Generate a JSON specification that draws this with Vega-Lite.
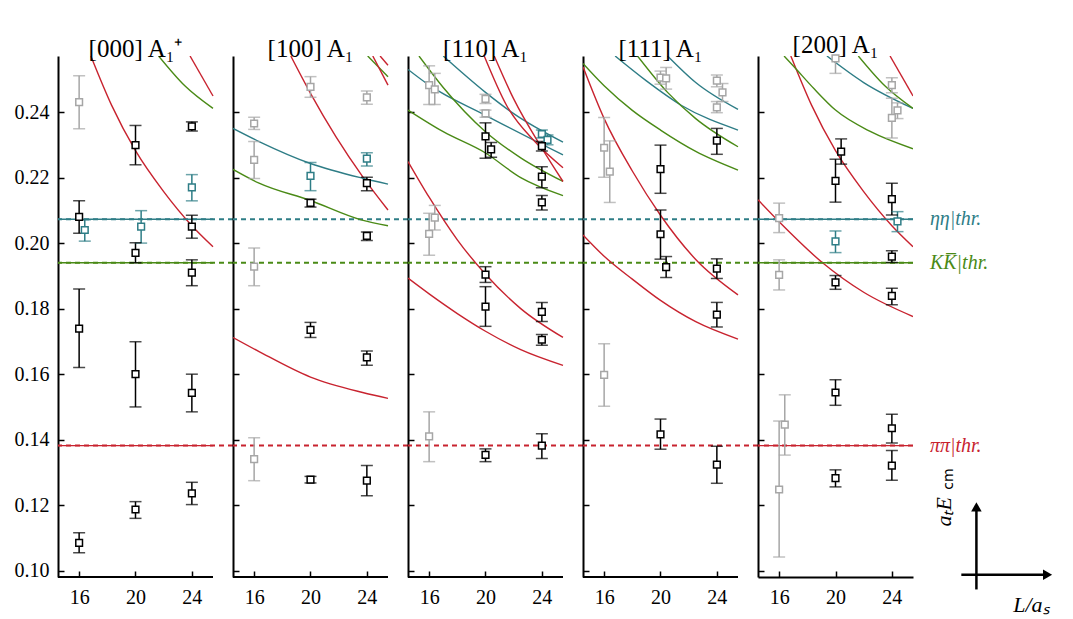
{
"$schema": "https://vega.github.io/schema/vega-lite/v6.json",
"padding": {"left": 14, "top": 32, "right": 5, "bottom": 5},
"spacing": 0,
"bounds": "flush",
"config": {
  "view": {"stroke": null},
  "font": "Liberation Serif",
  "axis": {"grid": false, "title": null, "domainColor": "#000", "domainWidth": 2, "tickColor": "#000", "tickWidth": 1.5, "tickSize": -6, "labelFont": "Liberation Serif", "labelFontSize": 20, "labelColor": "#000"},
  "style": {"guide-label": {"font": "Liberation Serif"}, "group-title": {"font": "Liberation Serif"}},
  "title": {"font": "Liberation Serif", "fontSize": 25, "fontWeight": "normal", "color": "#000", "offset": -6}
},
"datasets": {
  "thr": [
    {"y": 0.2073, "c": "t", "lab": "ηη|thr."},
    {"y": 0.194, "c": "gn", "lab": "KK̅|thr."},
    {"y": 0.1382, "c": "r", "lab": "ππ|thr."}
  ],
  "pts": [
    {"p":1,"x":16,"y":0.2080,"lo":0.2030,"hi":0.2129,"c":"k"},
    {"p":1,"x":16,"y":0.1739,"lo":0.1620,"hi":0.1860,"c":"k"},
    {"p":1,"x":16,"y":0.1085,"lo":0.1055,"hi":0.1116,"c":"k"},
    {"p":1,"x":16,"y":0.2430,"lo":0.2349,"hi":0.2511,"c":"gy"},
    {"p":1,"x":16.4,"y":0.2040,"lo":0.2006,"hi":0.2071,"c":"t"},
    {"p":1,"x":20,"y":0.2299,"lo":0.2239,"hi":0.2359,"c":"k"},
    {"p":1,"x":20,"y":0.1970,"lo":0.1940,"hi":0.2001,"c":"k"},
    {"p":1,"x":20,"y":0.1600,"lo":0.1500,"hi":0.1699,"c":"k"},
    {"p":1,"x":20,"y":0.1187,"lo":0.1160,"hi":0.1211,"c":"k"},
    {"p":1,"x":20.4,"y":0.2050,"lo":0.2000,"hi":0.2099,"c":"t"},
    {"p":1,"x":24,"y":0.2356,"lo":0.2342,"hi":0.2370,"c":"k"},
    {"p":1,"x":24,"y":0.2170,"lo":0.2129,"hi":0.2209,"c":"t"},
    {"p":1,"x":24,"y":0.2050,"lo":0.2015,"hi":0.2085,"c":"k"},
    {"p":1,"x":24,"y":0.1910,"lo":0.1870,"hi":0.1949,"c":"k"},
    {"p":1,"x":24,"y":0.1543,"lo":0.1485,"hi":0.1600,"c":"k"},
    {"p":1,"x":24,"y":0.1236,"lo":0.1202,"hi":0.1270,"c":"k"},

    {"p":2,"x":16,"y":0.2365,"lo":0.2347,"hi":0.2384,"c":"gy"},
    {"p":2,"x":16,"y":0.2254,"lo":0.2197,"hi":0.2310,"c":"gy"},
    {"p":2,"x":16,"y":0.1928,"lo":0.1870,"hi":0.1985,"c":"gy"},
    {"p":2,"x":16,"y":0.1341,"lo":0.1275,"hi":0.1406,"c":"gy"},
    {"p":2,"x":20,"y":0.2477,"lo":0.2445,"hi":0.2508,"c":"gy"},
    {"p":2,"x":20,"y":0.2205,"lo":0.2160,"hi":0.2246,"c":"t"},
    {"p":2,"x":20,"y":0.2123,"lo":0.2110,"hi":0.2134,"c":"k"},
    {"p":2,"x":20,"y":0.1735,"lo":0.1712,"hi":0.1758,"c":"k"},
    {"p":2,"x":20,"y":0.1278,"lo":0.1268,"hi":0.1288,"c":"k"},
    {"p":2,"x":24,"y":0.2445,"lo":0.2424,"hi":0.2464,"c":"gy"},
    {"p":2,"x":24,"y":0.2258,"lo":0.2235,"hi":0.2276,"c":"t"},
    {"p":2,"x":24,"y":0.2183,"lo":0.2160,"hi":0.2201,"c":"k"},
    {"p":2,"x":24,"y":0.2022,"lo":0.2008,"hi":0.2034,"c":"k"},
    {"p":2,"x":24,"y":0.1651,"lo":0.1627,"hi":0.1671,"c":"k"},
    {"p":2,"x":24,"y":0.1275,"lo":0.1229,"hi":0.1321,"c":"k"},

    {"p":3,"x":16,"y":0.2482,"lo":0.2423,"hi":0.2541,"c":"gy"},
    {"p":3,"x":16.4,"y":0.2469,"lo":0.2423,"hi":0.2518,"c":"gy"},
    {"p":3,"x":16,"y":0.2028,"lo":0.1963,"hi":0.2091,"c":"gy"},
    {"p":3,"x":16.4,"y":0.2078,"lo":0.2040,"hi":0.2115,"c":"gy"},
    {"p":3,"x":16,"y":0.1410,"lo":0.1333,"hi":0.1485,"c":"gy"},
    {"p":3,"x":20,"y":0.2440,"lo":0.2426,"hi":0.2454,"c":"gy"},
    {"p":3,"x":20,"y":0.2396,"lo":0.2384,"hi":0.2406,"c":"gy"},
    {"p":3,"x":20,"y":0.2326,"lo":0.2259,"hi":0.2367,"c":"k"},
    {"p":3,"x":20.4,"y":0.2286,"lo":0.2262,"hi":0.2307,"c":"k"},
    {"p":3,"x":20,"y":0.1904,"lo":0.1880,"hi":0.1928,"c":"k"},
    {"p":3,"x":20,"y":0.1806,"lo":0.1746,"hi":0.1867,"c":"k"},
    {"p":3,"x":20,"y":0.1354,"lo":0.1333,"hi":0.1372,"c":"k"},
    {"p":3,"x":24,"y":0.2333,"lo":0.2321,"hi":0.2345,"c":"t"},
    {"p":3,"x":24.4,"y":0.2315,"lo":0.2300,"hi":0.2330,"c":"t"},
    {"p":3,"x":24,"y":0.2296,"lo":0.2281,"hi":0.2310,"c":"k"},
    {"p":3,"x":24,"y":0.2203,"lo":0.2169,"hi":0.2233,"c":"k"},
    {"p":3,"x":24,"y":0.2124,"lo":0.2101,"hi":0.2145,"c":"k"},
    {"p":3,"x":24,"y":0.1790,"lo":0.1761,"hi":0.1819,"c":"k"},
    {"p":3,"x":24,"y":0.1705,"lo":0.1688,"hi":0.1721,"c":"k"},
    {"p":3,"x":24,"y":0.1382,"lo":0.1343,"hi":0.1418,"c":"k"},

    {"p":4,"x":16,"y":0.2291,"lo":0.2201,"hi":0.2383,"c":"gy"},
    {"p":4,"x":16.4,"y":0.2218,"lo":0.2124,"hi":0.2312,"c":"gy"},
    {"p":4,"x":16,"y":0.1598,"lo":0.1502,"hi":0.1693,"c":"gy"},
    {"p":4,"x":20,"y":0.2505,"lo":0.2485,"hi":0.2525,"c":"gy"},
    {"p":4,"x":20.4,"y":0.2503,"lo":0.2470,"hi":0.2536,"c":"gy"},
    {"p":4,"x":20,"y":0.2226,"lo":0.2152,"hi":0.2299,"c":"k"},
    {"p":4,"x":20,"y":0.2027,"lo":0.1951,"hi":0.2101,"c":"k"},
    {"p":4,"x":20.4,"y":0.1927,"lo":0.1895,"hi":0.1959,"c":"k"},
    {"p":4,"x":20,"y":0.1416,"lo":0.1371,"hi":0.1463,"c":"k"},
    {"p":4,"x":24,"y":0.2496,"lo":0.2477,"hi":0.2513,"c":"gy"},
    {"p":4,"x":24.4,"y":0.2460,"lo":0.2432,"hi":0.2487,"c":"gy"},
    {"p":4,"x":24,"y":0.2414,"lo":0.2398,"hi":0.2432,"c":"gy"},
    {"p":4,"x":24,"y":0.2313,"lo":0.2271,"hi":0.2350,"c":"k"},
    {"p":4,"x":24,"y":0.1922,"lo":0.1892,"hi":0.1952,"c":"k"},
    {"p":4,"x":24,"y":0.1782,"lo":0.1744,"hi":0.1819,"c":"k"},
    {"p":4,"x":24,"y":0.1324,"lo":0.1267,"hi":0.1380,"c":"k"},

    {"p":5,"x":16,"y":0.2076,"lo":0.2032,"hi":0.2122,"c":"gy"},
    {"p":5,"x":16,"y":0.1903,"lo":0.1857,"hi":0.1949,"c":"gy"},
    {"p":5,"x":16,"y":0.1248,"lo":0.1042,"hi":0.1457,"c":"gy"},
    {"p":5,"x":16.4,"y":0.1446,"lo":0.1353,"hi":0.1537,"c":"gy"},
    {"p":5,"x":20,"y":0.2564,"lo":0.2518,"hi":0.2610,"c":"gy"},
    {"p":5,"x":20,"y":0.2190,"lo":0.2125,"hi":0.2256,"c":"k"},
    {"p":5,"x":20.4,"y":0.2279,"lo":0.2241,"hi":0.2318,"c":"k"},
    {"p":5,"x":20,"y":0.2005,"lo":0.1971,"hi":0.2037,"c":"t"},
    {"p":5,"x":20,"y":0.1880,"lo":0.1859,"hi":0.1901,"c":"k"},
    {"p":5,"x":20,"y":0.1544,"lo":0.1505,"hi":0.1583,"c":"k"},
    {"p":5,"x":20,"y":0.1283,"lo":0.1256,"hi":0.1308,"c":"k"},
    {"p":5,"x":24,"y":0.2482,"lo":0.2459,"hi":0.2505,"c":"gy"},
    {"p":5,"x":24.4,"y":0.2405,"lo":0.2380,"hi":0.2428,"c":"gy"},
    {"p":5,"x":24,"y":0.2382,"lo":0.2321,"hi":0.2442,"c":"gy"},
    {"p":5,"x":24,"y":0.2134,"lo":0.2086,"hi":0.2183,"c":"k"},
    {"p":5,"x":24.4,"y":0.2066,"lo":0.2035,"hi":0.2096,"c":"t"},
    {"p":5,"x":24,"y":0.1959,"lo":0.1941,"hi":0.1977,"c":"k"},
    {"p":5,"x":24,"y":0.1839,"lo":0.1812,"hi":0.1862,"c":"k"},
    {"p":5,"x":24,"y":0.1435,"lo":0.1390,"hi":0.1478,"c":"k"},
    {"p":5,"x":24,"y":0.1321,"lo":0.1276,"hi":0.1367,"c":"k"}
  ],
  "curves": [
    {"p":1,"id":"a","c":"r","x":16.83,"y":0.2571},{"p":1,"id":"a","c":"r","x":18.3,"y":0.2421},{"p":1,"id":"a","c":"r","x":20,"y":0.2282},{"p":1,"id":"a","c":"r","x":22,"y":0.2157},{"p":1,"id":"a","c":"r","x":24,"y":0.2053},{"p":1,"id":"a","c":"r","x":25.5,"y":0.1989},
    {"p":1,"id":"b","c":"gn","x":21.64,"y":0.2571},{"p":1,"id":"b","c":"gn","x":23.5,"y":0.2480},{"p":1,"id":"b","c":"gn","x":25.5,"y":0.2411},
    {"p":1,"id":"c","c":"r","x":23.87,"y":0.2571},{"p":1,"id":"c","c":"r","x":25.5,"y":0.2449},
    {"p":1,"id":"d","c":"t","x":14.5,"y":0.2073},{"p":1,"id":"d","c":"t","x":25.5,"y":0.2073},
    {"p":1,"id":"e","c":"gn","x":14.5,"y":0.194},{"p":1,"id":"e","c":"gn","x":25.5,"y":0.194},
    {"p":1,"id":"f","c":"r","x":14.5,"y":0.1382},{"p":1,"id":"f","c":"r","x":25.5,"y":0.1382},

    {"p":2,"id":"a","c":"r","x":18.6,"y":0.2571},{"p":2,"id":"a","c":"r","x":20,"y":0.2457},{"p":2,"id":"a","c":"r","x":21.8,"y":0.2325},{"p":2,"id":"a","c":"r","x":23.7,"y":0.2203},{"p":2,"id":"a","c":"r","x":25.5,"y":0.2101},
    {"p":2,"id":"b","c":"t","x":14.5,"y":0.2350},{"p":2,"id":"b","c":"t","x":16.35,"y":0.2310},{"p":2,"id":"b","c":"t","x":20,"y":0.2243},{"p":2,"id":"b","c":"t","x":23.7,"y":0.2198},{"p":2,"id":"b","c":"t","x":25.5,"y":0.2180},
    {"p":2,"id":"c","c":"gn","x":14.5,"y":0.2225},{"p":2,"id":"c","c":"gn","x":16.35,"y":0.2183},{"p":2,"id":"c","c":"gn","x":20,"y":0.2130},{"p":2,"id":"c","c":"gn","x":23.6,"y":0.2071},{"p":2,"id":"c","c":"gn","x":25.5,"y":0.2053},
    {"p":2,"id":"d","c":"r","x":14.5,"y":0.1712},{"p":2,"id":"d","c":"r","x":16.35,"y":0.1669},{"p":2,"id":"d","c":"r","x":20,"y":0.1591},{"p":2,"id":"d","c":"r","x":23.7,"y":0.1544},{"p":2,"id":"d","c":"r","x":25.5,"y":0.1526},
    {"p":2,"id":"e","c":"gn","x":24.06,"y":0.2571},{"p":2,"id":"e","c":"gn","x":25.5,"y":0.2508},
    {"p":2,"id":"f","c":"r","x":24.42,"y":0.2571},{"p":2,"id":"f","c":"r","x":25.5,"y":0.2482},
    {"p":2,"id":"g","c":"r","x":24.94,"y":0.2571},{"p":2,"id":"g","c":"r","x":25.5,"y":0.2543},

    {"p":3,"id":"a","c":"t","x":14.5,"y":0.2530},{"p":3,"id":"a","c":"t","x":16,"y":0.2482},{"p":3,"id":"a","c":"t","x":20,"y":0.2390},{"p":3,"id":"a","c":"t","x":25.5,"y":0.2269},
    {"p":3,"id":"b","c":"t","x":17.0,"y":0.2571},{"p":3,"id":"b","c":"t","x":20,"y":0.2460},{"p":3,"id":"b","c":"t","x":22,"y":0.2395},{"p":3,"id":"b","c":"t","x":25.5,"y":0.2308},
    {"p":3,"id":"c","c":"gn","x":15.28,"y":0.2571},{"p":3,"id":"c","c":"gn","x":17,"y":0.2475},{"p":3,"id":"c","c":"gn","x":20,"y":0.2340},{"p":3,"id":"c","c":"gn","x":22.5,"y":0.2260},{"p":3,"id":"c","c":"gn","x":25.5,"y":0.2188},
    {"p":3,"id":"d","c":"gn","x":14.5,"y":0.2406},{"p":3,"id":"d","c":"gn","x":17,"y":0.2340},{"p":3,"id":"d","c":"gn","x":20,"y":0.2275},{"p":3,"id":"d","c":"gn","x":22.5,"y":0.2200},{"p":3,"id":"d","c":"gn","x":25.5,"y":0.2145},
    {"p":3,"id":"e","c":"r","x":19.91,"y":0.2571},{"p":3,"id":"e","c":"r","x":21.5,"y":0.2420},{"p":3,"id":"e","c":"r","x":23.5,"y":0.2310},{"p":3,"id":"e","c":"r","x":25.5,"y":0.2230},
    {"p":3,"id":"f","c":"r","x":20.62,"y":0.2571},{"p":3,"id":"f","c":"r","x":22,"y":0.2440},{"p":3,"id":"f","c":"r","x":24,"y":0.2290},{"p":3,"id":"f","c":"r","x":25.5,"y":0.2188},
    {"p":3,"id":"g","c":"r","x":14.5,"y":0.2249},{"p":3,"id":"g","c":"r","x":16,"y":0.2140},{"p":3,"id":"g","c":"r","x":18,"y":0.2010},{"p":3,"id":"g","c":"r","x":20,"y":0.1905},{"p":3,"id":"g","c":"r","x":22.5,"y":0.1800},{"p":3,"id":"g","c":"r","x":25.5,"y":0.1712},
    {"p":3,"id":"h","c":"r","x":14.5,"y":0.1893},{"p":3,"id":"h","c":"r","x":16,"y":0.1845},{"p":3,"id":"h","c":"r","x":18,"y":0.1785},{"p":3,"id":"h","c":"r","x":20,"y":0.1731},{"p":3,"id":"h","c":"r","x":22.5,"y":0.1675},{"p":3,"id":"h","c":"r","x":25.5,"y":0.1627},

    {"p":4,"id":"a","c":"gn","x":14.5,"y":0.2548},{"p":4,"id":"a","c":"gn","x":16,"y":0.2480},{"p":4,"id":"a","c":"gn","x":18,"y":0.2405},{"p":4,"id":"a","c":"gn","x":20,"y":0.2345},{"p":4,"id":"a","c":"gn","x":22.5,"y":0.2280},{"p":4,"id":"a","c":"gn","x":25.5,"y":0.2223},
    {"p":4,"id":"b","c":"r","x":14.5,"y":0.2538},{"p":4,"id":"b","c":"r","x":16,"y":0.2380},{"p":4,"id":"b","c":"r","x":18,"y":0.2220},{"p":4,"id":"b","c":"r","x":20,"y":0.2085},{"p":4,"id":"b","c":"r","x":22.5,"y":0.1950},{"p":4,"id":"b","c":"r","x":25.5,"y":0.1842},
    {"p":4,"id":"c","c":"r","x":14.5,"y":0.2025},{"p":4,"id":"c","c":"r","x":16,"y":0.1960},{"p":4,"id":"c","c":"r","x":18,"y":0.1890},{"p":4,"id":"c","c":"r","x":20,"y":0.1825},{"p":4,"id":"c","c":"r","x":22.5,"y":0.1760},{"p":4,"id":"c","c":"r","x":25.5,"y":0.1707},
    {"p":4,"id":"d","c":"t","x":16.78,"y":0.2571},{"p":4,"id":"d","c":"t","x":19,"y":0.2495},{"p":4,"id":"d","c":"t","x":21.5,"y":0.2420},{"p":4,"id":"d","c":"t","x":25.5,"y":0.2345},
    {"p":4,"id":"e","c":"t","x":20.5,"y":0.2571},{"p":4,"id":"e","c":"t","x":22.5,"y":0.2490},{"p":4,"id":"e","c":"t","x":25.5,"y":0.2408},
    {"p":4,"id":"f","c":"gn","x":18.37,"y":0.2571},{"p":4,"id":"f","c":"gn","x":20.5,"y":0.2460},{"p":4,"id":"f","c":"gn","x":22.5,"y":0.2380},{"p":4,"id":"f","c":"gn","x":25.5,"y":0.2294},

    {"p":5,"id":"a","c":"r","x":16.83,"y":0.2571},{"p":5,"id":"a","c":"r","x":18.3,"y":0.2421},{"p":5,"id":"a","c":"r","x":20,"y":0.2282},{"p":5,"id":"a","c":"r","x":22,"y":0.2157},{"p":5,"id":"a","c":"r","x":24,"y":0.2053},{"p":5,"id":"a","c":"r","x":25.5,"y":0.1989},
    {"p":5,"id":"b","c":"r","x":14.5,"y":0.2132},{"p":5,"id":"b","c":"r","x":16,"y":0.2065},{"p":5,"id":"b","c":"r","x":19.08,"y":0.1940},{"p":5,"id":"b","c":"r","x":22,"y":0.1850},{"p":5,"id":"b","c":"r","x":25.5,"y":0.1776},
    {"p":5,"id":"c","c":"gn","x":16.35,"y":0.2571},{"p":5,"id":"c","c":"gn","x":17.06,"y":0.2538},{"p":5,"id":"c","c":"gn","x":18.5,"y":0.2470},{"p":5,"id":"c","c":"gn","x":20,"y":0.2406},{"p":5,"id":"c","c":"gn","x":22.5,"y":0.2340},{"p":5,"id":"c","c":"gn","x":25.5,"y":0.2288},
    {"p":5,"id":"d","c":"t","x":19.39,"y":0.2571},{"p":5,"id":"d","c":"t","x":22,"y":0.2490},{"p":5,"id":"d","c":"t","x":25.5,"y":0.2411},
    {"p":5,"id":"e","c":"gn","x":21.62,"y":0.2571},{"p":5,"id":"e","c":"gn","x":23.5,"y":0.2480},{"p":5,"id":"e","c":"gn","x":25.5,"y":0.2411},
    {"p":5,"id":"f","c":"r","x":23.87,"y":0.2571},{"p":5,"id":"f","c":"r","x":25.5,"y":0.2449},
    {"p":5,"id":"g","c":"t","x":14.5,"y":0.2073},{"p":5,"id":"g","c":"t","x":25.5,"y":0.2073},
    {"p":5,"id":"h","c":"gn","x":14.5,"y":0.194},{"p":5,"id":"h","c":"gn","x":25.5,"y":0.194},
    {"p":5,"id":"i","c":"r","x":14.5,"y":0.1382},{"p":5,"id":"i","c":"r","x":25.5,"y":0.1382}
  ]
},
"hconcat": [
 {"width":175,"height":521,"title":{"text":"[000] A₁⁺","dx":-10},
  "layer":[
   {"data":{"name":"thr"},"mark":{"type":"rule","strokeDash":[5,4],"strokeWidth":2},"encoding":{"y":{"field":"y","type":"quantitative","scale":{"domain":[0.0981,0.2571],"nice":false,"zero":false},"axis":{"values":[0.10,0.12,0.14,0.16,0.18,0.20,0.22,0.24],"format":".2f","labelPadding":15,"labelFont":"Liberation Serif"}},"color":{"field":"c","type":"nominal","scale":{"domain":["k","gy","t","gn","r"],"range":["#000000","#a6a6a6","#2e7d86","#4a8a16","#c8232f"]},"legend":null}}},
   {"data":{"values":[{}]},"mark":{"type":"rule","strokeWidth":2,"color":"#000"},"encoding":{"x":{"datum":14.5,"type":"quantitative"},"x2":{"datum":25.5},"y":{"datum":0.0981,"type":"quantitative"}}},
   {"data":{"name":"curves"},"transform":[{"filter":"datum.p==1"}],"mark":{"type":"line","clip":true,"interpolate":"monotone","strokeWidth":1.4},"encoding":{"x":{"field":"x","type":"quantitative","scale":{"domain":[14.5,26.9194],"nice":false,"zero":false},"axis":{"values":[16,20,24],"labelPadding":16,"domain":false,"labelFont":"Liberation Serif"}},"y":{"field":"y","type":"quantitative"},"detail":{"field":"id"},"color":{"field":"c","type":"nominal","legend":null}}},
   {"data":{"name":"pts"},"transform":[{"filter":"datum.p==1"}],"mark":{"type":"rule","strokeWidth":1.5,"clip":true},"encoding":{"x":{"field":"x","type":"quantitative"},"y":{"field":"lo","type":"quantitative"},"y2":{"field":"hi"},"color":{"field":"c","type":"nominal","legend":null}}},
   {"data":{"name":"pts"},"transform":[{"filter":"datum.p==1"}],"mark":{"type":"tick","orient":"horizontal","size":12,"thickness":1.5,"clip":true},"encoding":{"x":{"field":"x","type":"quantitative"},"y":{"field":"lo","type":"quantitative"},"color":{"field":"c","type":"nominal","legend":null}}},
   {"data":{"name":"pts"},"transform":[{"filter":"datum.p==1"}],"mark":{"type":"tick","orient":"horizontal","size":12,"thickness":1.5,"clip":true},"encoding":{"x":{"field":"x","type":"quantitative"},"y":{"field":"hi","type":"quantitative"},"color":{"field":"c","type":"nominal","legend":null}}},
   {"data":{"name":"pts"},"transform":[{"filter":"datum.p==1"}],"mark":{"type":"point","shape":"square","size":45,"fill":"#ffffff","filled":false,"opacity":1,"strokeWidth":1.5},"encoding":{"x":{"field":"x","type":"quantitative"},"y":{"field":"y","type":"quantitative"},"stroke":{"field":"c","type":"nominal","scale":{"domain":["k","gy","t","gn","r"],"range":["#000000","#a6a6a6","#2e7d86","#4a8a16","#c8232f"]},"legend":null}}}
  ]},
 {"width":175,"height":521,"title":{"text":"[100] A₁","dx":-10},
  "layer":[
   {"data":{"name":"thr"},"mark":{"type":"rule","strokeDash":[5,4],"strokeWidth":2},"encoding":{"y":{"field":"y","type":"quantitative","scale":{"domain":[0.0981,0.2571],"nice":false,"zero":false},"axis":{"values":[0.10,0.12,0.14,0.16,0.18,0.20,0.22,0.24],"labels":false}},"color":{"field":"c","type":"nominal","scale":{"domain":["k","gy","t","gn","r"],"range":["#000000","#a6a6a6","#2e7d86","#4a8a16","#c8232f"]},"legend":null}}},
   {"data":{"values":[{}]},"mark":{"type":"rule","strokeWidth":2,"color":"#000"},"encoding":{"x":{"datum":14.5,"type":"quantitative"},"x2":{"datum":25.5},"y":{"datum":0.0981,"type":"quantitative"}}},
   {"data":{"name":"curves"},"transform":[{"filter":"datum.p==2"}],"mark":{"type":"line","clip":true,"interpolate":"monotone","strokeWidth":1.4},"encoding":{"x":{"field":"x","type":"quantitative","scale":{"domain":[14.5,26.9194],"nice":false,"zero":false},"axis":{"values":[16,20,24],"labelPadding":16,"domain":false,"labelFont":"Liberation Serif"}},"y":{"field":"y","type":"quantitative"},"detail":{"field":"id"},"color":{"field":"c","type":"nominal","legend":null}}},
   {"data":{"name":"pts"},"transform":[{"filter":"datum.p==2"}],"mark":{"type":"rule","strokeWidth":1.5,"clip":true},"encoding":{"x":{"field":"x","type":"quantitative"},"y":{"field":"lo","type":"quantitative"},"y2":{"field":"hi"},"color":{"field":"c","type":"nominal","legend":null}}},
   {"data":{"name":"pts"},"transform":[{"filter":"datum.p==2"}],"mark":{"type":"tick","orient":"horizontal","size":12,"thickness":1.5,"clip":true},"encoding":{"x":{"field":"x","type":"quantitative"},"y":{"field":"lo","type":"quantitative"},"color":{"field":"c","type":"nominal","legend":null}}},
   {"data":{"name":"pts"},"transform":[{"filter":"datum.p==2"}],"mark":{"type":"tick","orient":"horizontal","size":12,"thickness":1.5,"clip":true},"encoding":{"x":{"field":"x","type":"quantitative"},"y":{"field":"hi","type":"quantitative"},"color":{"field":"c","type":"nominal","legend":null}}},
   {"data":{"name":"pts"},"transform":[{"filter":"datum.p==2"}],"mark":{"type":"point","shape":"square","size":45,"fill":"#ffffff","filled":false,"opacity":1,"strokeWidth":1.5},"encoding":{"x":{"field":"x","type":"quantitative"},"y":{"field":"y","type":"quantitative"},"stroke":{"field":"c","type":"nominal","scale":{"domain":["k","gy","t","gn","r"],"range":["#000000","#a6a6a6","#2e7d86","#4a8a16","#c8232f"]},"legend":null}}}
  ]},
 {"width":175,"height":521,"title":{"text":"[110] A₁","dx":-10},
  "layer":[
   {"data":{"name":"thr"},"mark":{"type":"rule","strokeDash":[5,4],"strokeWidth":2},"encoding":{"y":{"field":"y","type":"quantitative","scale":{"domain":[0.0981,0.2571],"nice":false,"zero":false},"axis":{"values":[0.10,0.12,0.14,0.16,0.18,0.20,0.22,0.24],"labels":false}},"color":{"field":"c","type":"nominal","scale":{"domain":["k","gy","t","gn","r"],"range":["#000000","#a6a6a6","#2e7d86","#4a8a16","#c8232f"]},"legend":null}}},
   {"data":{"values":[{}]},"mark":{"type":"rule","strokeWidth":2,"color":"#000"},"encoding":{"x":{"datum":14.5,"type":"quantitative"},"x2":{"datum":25.5},"y":{"datum":0.0981,"type":"quantitative"}}},
   {"data":{"name":"curves"},"transform":[{"filter":"datum.p==3"}],"mark":{"type":"line","clip":true,"interpolate":"monotone","strokeWidth":1.4},"encoding":{"x":{"field":"x","type":"quantitative","scale":{"domain":[14.5,26.9194],"nice":false,"zero":false},"axis":{"values":[16,20,24],"labelPadding":16,"domain":false,"labelFont":"Liberation Serif"}},"y":{"field":"y","type":"quantitative"},"detail":{"field":"id"},"color":{"field":"c","type":"nominal","legend":null}}},
   {"data":{"name":"pts"},"transform":[{"filter":"datum.p==3"}],"mark":{"type":"rule","strokeWidth":1.5,"clip":true},"encoding":{"x":{"field":"x","type":"quantitative"},"y":{"field":"lo","type":"quantitative"},"y2":{"field":"hi"},"color":{"field":"c","type":"nominal","legend":null}}},
   {"data":{"name":"pts"},"transform":[{"filter":"datum.p==3"}],"mark":{"type":"tick","orient":"horizontal","size":12,"thickness":1.5,"clip":true},"encoding":{"x":{"field":"x","type":"quantitative"},"y":{"field":"lo","type":"quantitative"},"color":{"field":"c","type":"nominal","legend":null}}},
   {"data":{"name":"pts"},"transform":[{"filter":"datum.p==3"}],"mark":{"type":"tick","orient":"horizontal","size":12,"thickness":1.5,"clip":true},"encoding":{"x":{"field":"x","type":"quantitative"},"y":{"field":"hi","type":"quantitative"},"color":{"field":"c","type":"nominal","legend":null}}},
   {"data":{"name":"pts"},"transform":[{"filter":"datum.p==3"}],"mark":{"type":"point","shape":"square","size":45,"fill":"#ffffff","filled":false,"opacity":1,"strokeWidth":1.5},"encoding":{"x":{"field":"x","type":"quantitative"},"y":{"field":"y","type":"quantitative"},"stroke":{"field":"c","type":"nominal","scale":{"domain":["k","gy","t","gn","r"],"range":["#000000","#a6a6a6","#2e7d86","#4a8a16","#c8232f"]},"legend":null}}}
  ]},
 {"width":175,"height":521,"title":{"text":"[111] A₁","dx":-10},
  "layer":[
   {"data":{"name":"thr"},"mark":{"type":"rule","strokeDash":[5,4],"strokeWidth":2},"encoding":{"y":{"field":"y","type":"quantitative","scale":{"domain":[0.0981,0.2571],"nice":false,"zero":false},"axis":{"values":[0.10,0.12,0.14,0.16,0.18,0.20,0.22,0.24],"labels":false}},"color":{"field":"c","type":"nominal","scale":{"domain":["k","gy","t","gn","r"],"range":["#000000","#a6a6a6","#2e7d86","#4a8a16","#c8232f"]},"legend":null}}},
   {"data":{"values":[{}]},"mark":{"type":"rule","strokeWidth":2,"color":"#000"},"encoding":{"x":{"datum":14.5,"type":"quantitative"},"x2":{"datum":25.5},"y":{"datum":0.0981,"type":"quantitative"}}},
   {"data":{"name":"curves"},"transform":[{"filter":"datum.p==4"}],"mark":{"type":"line","clip":true,"interpolate":"monotone","strokeWidth":1.4},"encoding":{"x":{"field":"x","type":"quantitative","scale":{"domain":[14.5,26.9194],"nice":false,"zero":false},"axis":{"values":[16,20,24],"labelPadding":16,"domain":false,"labelFont":"Liberation Serif"}},"y":{"field":"y","type":"quantitative"},"detail":{"field":"id"},"color":{"field":"c","type":"nominal","legend":null}}},
   {"data":{"name":"pts"},"transform":[{"filter":"datum.p==4"}],"mark":{"type":"rule","strokeWidth":1.5,"clip":true},"encoding":{"x":{"field":"x","type":"quantitative"},"y":{"field":"lo","type":"quantitative"},"y2":{"field":"hi"},"color":{"field":"c","type":"nominal","legend":null}}},
   {"data":{"name":"pts"},"transform":[{"filter":"datum.p==4"}],"mark":{"type":"tick","orient":"horizontal","size":12,"thickness":1.5,"clip":true},"encoding":{"x":{"field":"x","type":"quantitative"},"y":{"field":"lo","type":"quantitative"},"color":{"field":"c","type":"nominal","legend":null}}},
   {"data":{"name":"pts"},"transform":[{"filter":"datum.p==4"}],"mark":{"type":"tick","orient":"horizontal","size":12,"thickness":1.5,"clip":true},"encoding":{"x":{"field":"x","type":"quantitative"},"y":{"field":"hi","type":"quantitative"},"color":{"field":"c","type":"nominal","legend":null}}},
   {"data":{"name":"pts"},"transform":[{"filter":"datum.p==4"}],"mark":{"type":"point","shape":"square","size":45,"fill":"#ffffff","filled":false,"opacity":1,"strokeWidth":1.5},"encoding":{"x":{"field":"x","type":"quantitative"},"y":{"field":"y","type":"quantitative"},"stroke":{"field":"c","type":"nominal","scale":{"domain":["k","gy","t","gn","r"],"range":["#000000","#a6a6a6","#2e7d86","#4a8a16","#c8232f"]},"legend":null}}}
  ]},
 {"width":155,"height":521,"title":{"text":"[200] A₁"},
  "layer":[
   {"data":{"name":"thr"},"mark":{"type":"rule","strokeDash":[5,4],"strokeWidth":2},"encoding":{"y":{"field":"y","type":"quantitative","scale":{"domain":[0.0981,0.2571],"nice":false,"zero":false},"axis":{"values":[0.10,0.12,0.14,0.16,0.18,0.20,0.22,0.24],"labels":false}},"color":{"field":"c","type":"nominal","scale":{"domain":["k","gy","t","gn","r"],"range":["#000000","#a6a6a6","#2e7d86","#4a8a16","#c8232f"]},"legend":null}}},
   {"data":{"name":"curves"},"transform":[{"filter":"datum.p==5"}],"mark":{"type":"line","clip":true,"interpolate":"monotone","strokeWidth":1.4},"encoding":{"x":{"field":"x","type":"quantitative","scale":{"domain":[14.5,25.5],"nice":false,"zero":false},"axis":{"values":[16,20,24],"labelPadding":16,"labelFont":"Liberation Serif"}},"y":{"field":"y","type":"quantitative"},"detail":{"field":"id"},"color":{"field":"c","type":"nominal","legend":null}}},
   {"data":{"name":"pts"},"transform":[{"filter":"datum.p==5"}],"mark":{"type":"rule","strokeWidth":1.5,"clip":true},"encoding":{"x":{"field":"x","type":"quantitative"},"y":{"field":"lo","type":"quantitative"},"y2":{"field":"hi"},"color":{"field":"c","type":"nominal","legend":null}}},
   {"data":{"name":"pts"},"transform":[{"filter":"datum.p==5"}],"mark":{"type":"tick","orient":"horizontal","size":12,"thickness":1.5,"clip":true},"encoding":{"x":{"field":"x","type":"quantitative"},"y":{"field":"lo","type":"quantitative"},"color":{"field":"c","type":"nominal","legend":null}}},
   {"data":{"name":"pts"},"transform":[{"filter":"datum.p==5"}],"mark":{"type":"tick","orient":"horizontal","size":12,"thickness":1.5,"clip":true},"encoding":{"x":{"field":"x","type":"quantitative"},"y":{"field":"hi","type":"quantitative"},"color":{"field":"c","type":"nominal","legend":null}}},
   {"data":{"name":"pts"},"transform":[{"filter":"datum.p==5"}],"mark":{"type":"point","shape":"square","size":45,"fill":"#ffffff","filled":false,"opacity":1,"strokeWidth":1.5},"encoding":{"x":{"field":"x","type":"quantitative"},"y":{"field":"y","type":"quantitative"},"stroke":{"field":"c","type":"nominal","scale":{"domain":["k","gy","t","gn","r"],"range":["#000000","#a6a6a6","#2e7d86","#4a8a16","#c8232f"]},"legend":null}}},
   {"data":{"name":"thr"},"mark":{"type":"text","align":"left","baseline":"middle","font":"Liberation Serif","fontStyle":"italic","fontSize":20},"encoding":{"x":{"datum":26.7,"type":"quantitative"},"y":{"field":"y","type":"quantitative"},"text":{"field":"lab"},"color":{"field":"c","type":"nominal","legend":null}}},
   {"data":{"values":[{}]},"mark":{"type":"rule","strokeWidth":2.5,"color":"#000"},"encoding":{"x":{"datum":30,"type":"quantitative"},"y":{"datum":0.0943,"type":"quantitative"},"y2":{"datum":0.1185}}},
   {"data":{"values":[{}]},"mark":{"type":"rule","strokeWidth":2.5,"color":"#000"},"encoding":{"x":{"datum":28.93,"type":"quantitative"},"x2":{"datum":34.9},"y":{"datum":0.0988,"type":"quantitative"}}},
   {"data":{"values":[{}]},"mark":{"type":"point","shape":"triangle-up","filled":true,"size":110,"color":"#000","opacity":1},"encoding":{"x":{"datum":30,"type":"quantitative"},"y":{"datum":0.1195,"type":"quantitative"}}},
   {"data":{"values":[{}]},"mark":{"type":"point","shape":"triangle-right","filled":true,"size":110,"color":"#000","opacity":1},"encoding":{"x":{"datum":35.05,"type":"quantitative"},"y":{"datum":0.0988,"type":"quantitative"}}},
   {"data":{"values":[{}]},"mark":{"type":"text","align":"center","baseline":"middle","font":"Liberation Serif","fontStyle":"italic","fontSize":22,"color":"#000"},"encoding":{"x":{"datum":33.9,"type":"quantitative"},"y":{"datum":0.0897,"type":"quantitative"},"text":{"value":"L/aₛ"}}},
   {"data":{"values":[{}]},"mark":{"type":"text","align":"center","baseline":"middle","angle":270,"font":"Liberation Serif","fontStyle":"italic","fontSize":22,"color":"#000"},"encoding":{"x":{"datum":27.67,"type":"quantitative"},"y":{"datum":0.1180,"type":"quantitative"},"text":{"value":"aₜE"}}},
   {"data":{"values":[{}]},"mark":{"type":"text","align":"center","baseline":"middle","angle":270,"font":"DejaVu Sans","fontSize":14,"color":"#000"},"encoding":{"x":{"datum":28.05,"type":"quantitative"},"y":{"datum":0.1280,"type":"quantitative"},"text":{"value":"cm"}}}
  ]}
]
}
